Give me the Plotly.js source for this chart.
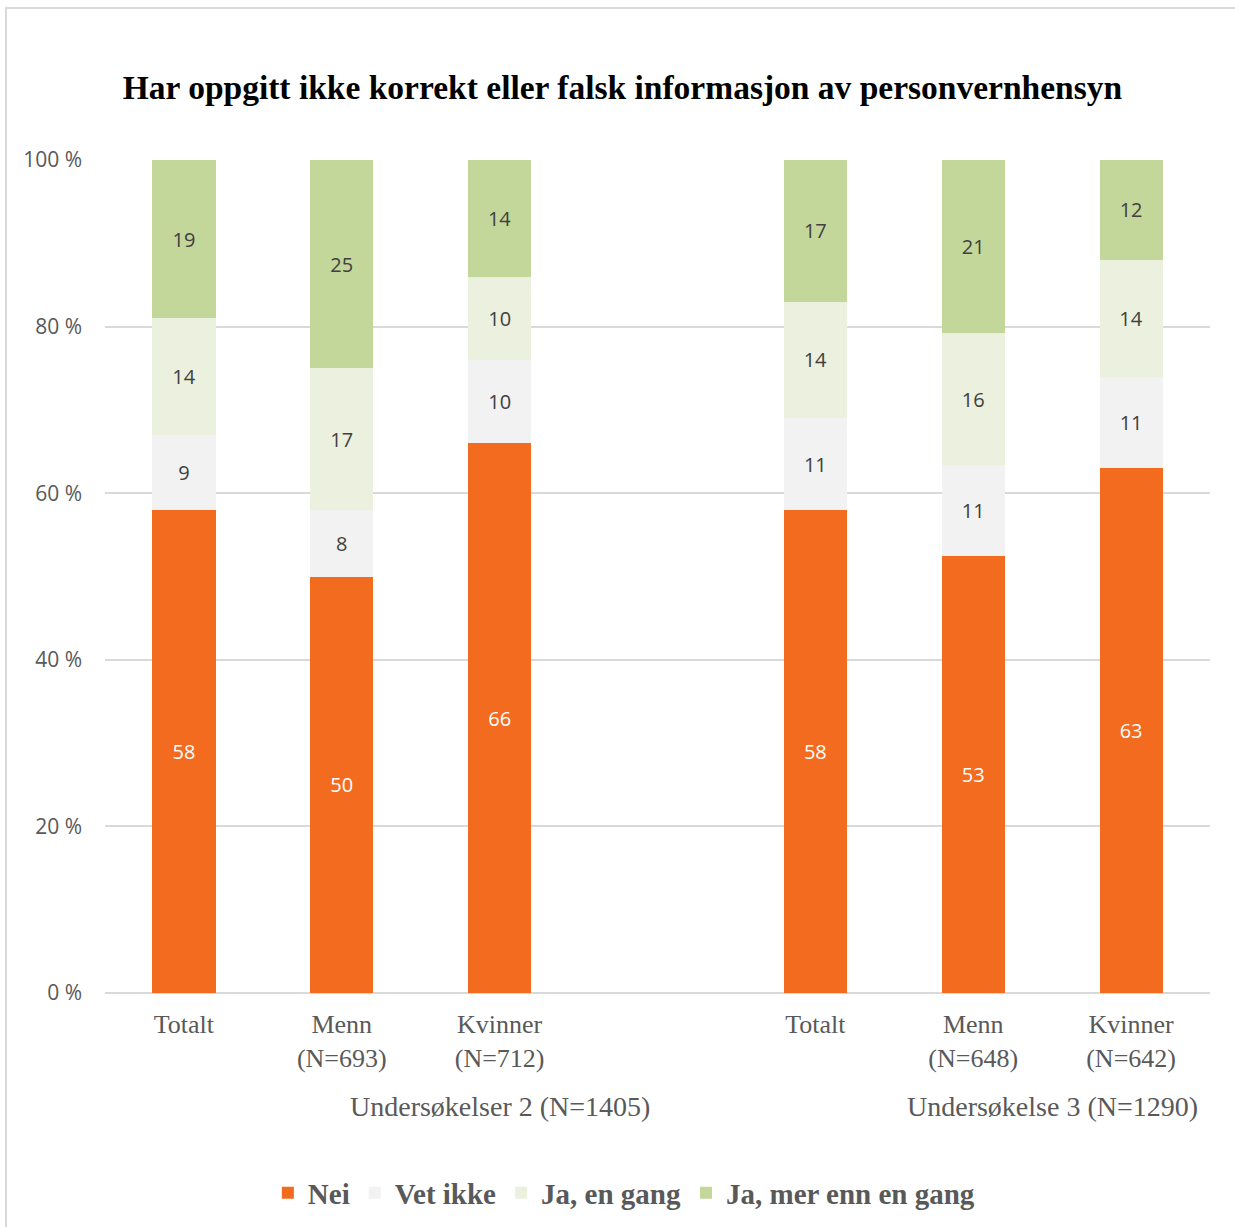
<!DOCTYPE html>
<html>
<head>
<meta charset="utf-8">
<script src="https://cdn.plot.ly/plotly-3.0.1.min.js"></script>
<style>
  body { margin: 0; background: #fff; }
  #wrap { position: relative; width: 1235px; height: 1227px; }
  #frame { position: absolute; left: 5px; top: 7px; width: 1240px; height: 1240px;
           border-left: 2px solid #d9d9d9; border-top: 2px solid #d9d9d9; pointer-events: none; }
  #chart { position: absolute; left: 0; top: 0; width: 1235px; height: 1227px; }
</style>
</head>
<body>
<div id="wrap">
  <div id="chart"></div>
  <div id="frame"></div>
</div>
<script>
// Category positions (slot 3 is an empty gap between the two surveys)
const xPos = [0, 1, 2, 4, 5, 6];
const categoryLabels = ["Totalt", "Menn<br>(N=693)", "Kvinner<br>(N=712)",
                        "Totalt", "Menn<br>(N=648)", "Kvinner<br>(N=642)"];
const groupLabels = ["Undersøkelser 2 (N=1405)", "Undersøkelse 3 (N=1290)"];

const seriesNames = ["Nei", "Vet ikke", "Ja, en gang", "Ja, mer enn en gang"];
const nei        = [58, 50, 66, 58, 52.5, 63];
const vetIkke    = [9, 8, 10, 11, 10.9, 11];
const jaEnGang   = [14, 17, 10, 14, 15.8, 14];
const jaMerEnn   = [19, 25, 14, 17, 20.8, 12];

const colors = ["#F26B1F", "#F2F2F2", "#EBF1DE", "#C4D79B"];
const textColors = ["#ffffff", "#404040", "#404040", "#404040"];
const seriesValues = [nei, vetIkke, jaEnGang, jaMerEnn];

const traces = seriesValues.map((vals, i) => ({
  type: "bar",
  name: seriesNames[i],
  x: xPos,
  y: vals,
  width: 0.4,
  marker: { color: colors[i], line: { width: 0 } },
  texttemplate: "%{y:.0f}",
  textposition: "inside",
  insidetextanchor: "middle",
  textangle: 0,
  textfont: { family: "Open Sans, DejaVu Sans, sans-serif", size: 20, color: textColors[i] },
  hoverinfo: "name+y"
}));

const L = 105, R = 25, T = 160, B = 234, W = 1235;
const plotW = W - L - R;
function px2paper(px) { return (px - L) / plotW; }
const serif = "Liberation Serif, Times New Roman, serif";

const layout = {
  width: 1235,
  height: 1227,
  margin: { l: L, r: R, t: T, b: B, autoexpand: false },
  paper_bgcolor: "rgba(0,0,0,0)",
  plot_bgcolor: "#ffffff",
  barmode: "stack",
  title: {
    text: "<b>Har oppgitt ikke korrekt eller falsk informasjon av personvernhensyn</b>",
    font: { family: serif, size: 33.5, color: "#000000" },
    x: 0.504, xanchor: "center",
    y: 1 - 87 / 1227, yanchor: "middle"
  },
  xaxis: {
    range: [-0.5, 6.5],
    tickmode: "array",
    tickvals: xPos,
    ticktext: categoryLabels,
    tickfont: { family: serif, size: 26, color: "#595959" },
    ticklabelstandoff: 13,
    showgrid: false,
    zeroline: false,
    showline: false,
    ticks: "",
    fixedrange: true
  },
  yaxis: {
    range: [0, 100],
    tickvals: [0, 20, 40, 60, 80, 100],
    ticktext: ["0 %", "20 %", "40 %", "60 %", "80 %", "100 %"],
    tickfont: { family: "Open Sans, DejaVu Sans, sans-serif", size: 21, color: "#595959" },
    showgrid: true,
    gridcolor: "#d9d9d9",
    gridwidth: 2,
    zeroline: true,
    zerolinecolor: "#d9d9d9",
    zerolinewidth: 2,
    showline: false,
    ticks: "",
    ticklabelstandoff: 22,
    fixedrange: true
  },
  showlegend: true,
  legend: {
    orientation: "h",
    x: 0.47, xanchor: "center",
    y: -(1193 - 993) / (993 - 160), yanchor: "middle",
    traceorder: "normal",
    font: { family: serif, size: 29, color: "#595959", weight: "bold" },
    itemwidth: 30
  },
  annotations: [
    { text: groupLabels[0], xref: "paper", yref: "paper",
      x: px2paper(500), y: -(1106 - 993) / (993 - 160), xanchor: "center", yanchor: "middle",
      showarrow: false,
      font: { family: serif, size: 28, color: "#595959" } },
    { text: groupLabels[1], xref: "paper", yref: "paper",
      x: px2paper(1052), y: -(1106 - 993) / (993 - 160), xanchor: "center", yanchor: "middle",
      showarrow: false,
      font: { family: serif, size: 28, color: "#595959" } }
  ]
};

Plotly.newPlot("chart", traces, layout, { displayModeBar: false, staticPlot: true });
</script>
</body>
</html>
